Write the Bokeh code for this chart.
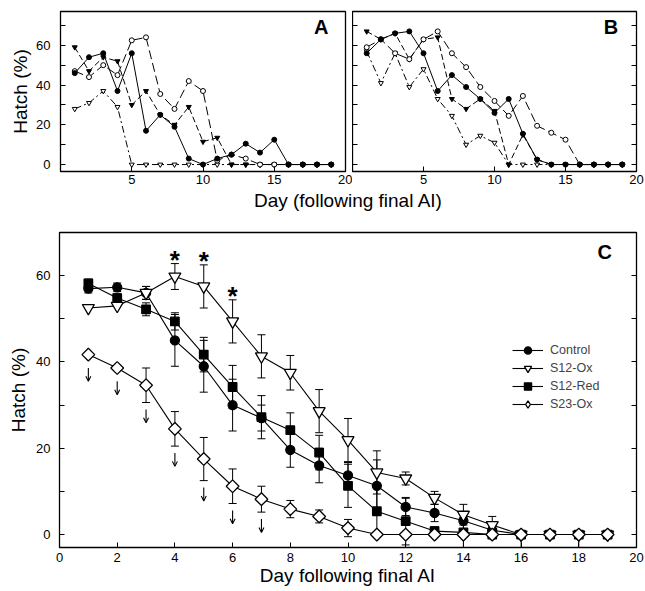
import numpy as np
from bokeh.plotting import figure
from bokeh.models import (ColumnDataSource, Whisker, TeeHead, FixedTicker, LinearAxis,
                          Label, Legend, LegendItem, Range1d, Arrow, OpenHead)
from bokeh.layouts import column, row
from bokeh.embed import file_html
from bokeh.resources import INLINE

FONT = "Liberation Sans"
days = list(range(1, 20))

# ---- Panel A: individual replicate series (% hatch by day) ----
a_filled_circle = [46, 54, 56, 37, 56, 17, 25, 19, 3, 0, 3, 5, 10.5, 6, 12.5, 0, 0, 0, 0]
a_open_circle = [47, 44, 50, 45, 62.5, 64, 35.5, 28, 42, 37, 2, 5, 3, 0, 0, 0, 0, 0, 0]
a_filled_tri = [59, 47, 54, 52, 30, 37, 25, 20, 29, 11.5, 13.5, 0, 0, 0, 0, 0, 0, 0, 0]
a_open_tri = [28, 31, 37, 29, 0, 0, 0, 0, 0, 0, 0, 0, 0, 0, 0, 0, 0, 0, 0]

# ---- Panel B ----
b_filled_circle = [56, 63, 66, 67, 56, 37, 45, 39, 33, 26, 33, 15.5, 2.5, 0, 0, 0, 0, 0, 0]
b_open_circle = [59, 63, 56, 53, 63, 67, 56, 49, 39, 32, 24.5, 34.5, 19.5, 16, 12.5, 0, 0, 0, 0]
b_filled_tri = [67, 63, 66, 53, 63, 64, 33, 28, 33, 27, 0, 15, 2.5, 0, 0, 0, 0, 0, 0]
b_open_tri = [57, 41, 56, 39, 48, 33, 24.5, 10, 14.5, 11, 0, 0, 0, 0, 0, 0, 0, 0, 0]

# ---- Panel C: treatment means with SE ----
labels_c = ["Control", "S12-Ox", "S12-Red", "S23-Ox"]
ctrl = [57, 57.3, 56, 45, 39, 30, 27, 19.6, 16, 13.7, 11.3, 6.4, 5, 3.2, 1, 0, 0, 0, 0]
ctrl_err_lo = [1, 1, 1.5, 6, 6, 6, 3, 4, 4, 3, 6, 2, 2, 2, 1, 3, 0, 3, 0]
ctrl_err_hi = [1, 1, 1.5, 6, 6, 6, 3, 4, 4, 3, 6, 2, 2, 2, 1, 0, 0, 0, 0]
s12ox = [52.5, 53, 56, 59.8, 57.5, 49.4, 41.3, 37.5, 28.6, 21.9, 14.4, 13, 8.5, 4.6, 2.2, 0, 0, 0, 0]
s12ox_err = [0, 0, 1.5, 3, 5, 5, 5, 4, 5, 5, 5, 1.5, 1.5, 2.4, 2, 0, 0, 0, 0]
s12red = [58.2, 54.8, 52.2, 49.4, 41.7, 34.2, 27.2, 24.2, 19, 11.3, 5.4, 3.1, 0.8, 0.5, 0, 0, 0, 0, 0]
s12red_err = [1, 1, 1.5, 2, 4, 5, 5, 4, 4, 5, 6, 5.5, 1, 3.5, 0, 0, 0, 0, 0]
s23ox = [41.7, 38.6, 34.6, 24.5, 17.5, 11.2, 8.2, 5.9, 4.2, 1.5, 0, 0, 0, 0, 0, 0, 0, 0, 0]
s23ox_err = [0, 0, 4, 4, 5, 4, 3, 2, 1.5, 2, 0, 0, 0, 0, 0, 0, 0, 0, 0]
sig_days = [4, 5, 6]          # asterisks above S12-Ox
down_days = [1, 2, 3, 4, 5, 6, 7]  # arrows below S23-Ox

x_ticks_ab = [5, 10, 15, 20]
y_major = [0, 20, 40, 60]
y_minor_ab = [10, 30, 50, 70]
x_ticks_c = list(range(0, 21, 2))
y_minor_c = [10, 30, 50]


def style_axis(ax, size="13px", labels=True, ticks=None):
    ax.axis_line_color = None
    ax.major_tick_in = 5
    ax.major_tick_out = 0
    ax.minor_tick_in = 5
    ax.minor_tick_out = 0
    ax.major_tick_line_color = "black"
    ax.minor_tick_line_color = "black"
    ax.major_label_text_font = FONT
    ax.major_label_text_color = "black"
    ax.major_label_text_font_size = size
    ax.axis_label_text_font = FONT
    ax.axis_label_text_font_style = "normal"
    ax.axis_label_text_color = "black"
    if not labels:
        ax.major_label_overrides = {t: "" for t in ticks}
        ax.major_label_standoff = 0


def base_fig(width, height, yr, mbl, mbr, mbt, mbb):
    p = figure(width=width, height=height, x_range=Range1d(0, 20), y_range=yr,
               output_backend="svg", toolbar_location=None,
               min_border_left=mbl, min_border_right=mbr,
               min_border_top=mbt, min_border_bottom=mbb)
    p.xgrid.visible = False
    p.ygrid.visible = False
    p.outline_line_color = "black"
    p.outline_line_width = 1.3
    p.background_fill_color = "white"
    p.border_fill_color = "white"
    return p


def ab_series(p, y, marker, fill, dash, lw=1.0):
    src = ColumnDataSource(dict(x=days, y=y))
    p.line("x", "y", source=src, line_color="black", line_width=lw, line_dash=dash)
    p.scatter("x", "y", source=src, marker=marker, size=5, line_color="black",
              fill_color=fill, line_width=1)


def txt(p, x, y, s, size, bold=False, font=FONT, baseline="middle"):
    p.add_layout(Label(x=x, y=y, text=s, text_font=font, text_font_size=size,
                       text_font_style="bold" if bold else "normal",
                       text_align="center", text_baseline=baseline, text_color="black"))


# ---------------- Panel A ----------------
pA = base_fig(352, 189, Range1d(-3.5, 77), 60, 7, 11, 18)
pA.xaxis.ticker = FixedTicker(ticks=x_ticks_ab)
pA.yaxis.ticker = FixedTicker(ticks=y_major, minor_ticks=y_minor_ab)
style_axis(pA.xaxis[0])
style_axis(pA.yaxis[0])
pA.xaxis.major_label_standoff = 3
pA.yaxis.major_label_standoff = 10
pA.yaxis.axis_label = "Hatch (%)"
pA.yaxis.axis_label_text_font_size = "19px"
pA.yaxis.axis_label_standoff = 2
ab_series(pA, a_open_tri, "inverted_triangle", "white", "7 3 2 3")
ab_series(pA, a_filled_tri, "inverted_triangle", "black", "6 3")
ab_series(pA, a_open_circle, "circle", "white", "9 4")
ab_series(pA, a_filled_circle, "circle", "black", "solid")
txt(pA, 18.3, 69.3, "A", "20px", bold=True)

# ---------------- Panel B ----------------
pB = base_fig(293, 189, Range1d(-3.5, 77), 0, 9, 11, 18)
pB.xaxis.ticker = FixedTicker(ticks=x_ticks_ab)
pB.yaxis.ticker = FixedTicker(ticks=y_major, minor_ticks=y_minor_ab)
style_axis(pB.xaxis[0])
pB.xaxis.major_label_standoff = 3
style_axis(pB.yaxis[0], labels=False, ticks=y_major)
rB = LinearAxis(ticker=FixedTicker(ticks=y_major, minor_ticks=y_minor_ab))
style_axis(rB, labels=False, ticks=y_major)
pB.add_layout(rB, "right")
ab_series(pB, b_open_tri, "inverted_triangle", "white", "7 3 2 3")
ab_series(pB, b_filled_tri, "inverted_triangle", "black", "6 3")
ab_series(pB, b_open_circle, "circle", "white", "9 4")
ab_series(pB, b_filled_circle, "circle", "black", "solid")
txt(pB, 18.2, 69, "B", "20px", bold=True)

# ---------------- shared x label for A and B ----------------
pL = figure(width=645, height=24, x_range=Range1d(0, 645), y_range=Range1d(0, 24),
            output_backend="svg", toolbar_location=None, min_border=0)
pL.axis.visible = False
pL.xgrid.visible = False
pL.ygrid.visible = False
pL.outline_line_color = None
txt(pL, 323, 13, "Day (following final AI)", "19px")

# ---------------- Panel C ----------------
pC = base_fig(645, 376, Range1d(-3, 70), 59, 9, 19, 42)
pC.xaxis.ticker = FixedTicker(ticks=x_ticks_c)
pC.yaxis.ticker = FixedTicker(ticks=y_major, minor_ticks=y_minor_c)
style_axis(pC.xaxis[0])
style_axis(pC.yaxis[0])
pC.xaxis.major_label_standoff = 5
pC.yaxis.major_label_standoff = 9
pC.xaxis.axis_label = "Day following final AI"
pC.xaxis.axis_label_text_font_size = "19px"
pC.xaxis.axis_label_standoff = 0
pC.yaxis.axis_label = "Hatch (%)"
pC.yaxis.axis_label_text_font_size = "19px"
pC.yaxis.axis_label_standoff = 4
rC = LinearAxis(ticker=FixedTicker(ticks=y_major, minor_ticks=y_minor_c))
style_axis(rC, labels=False, ticks=y_major)
pC.add_layout(rC, "right")


def whiskers(p, y, lo, hi):
    idx = [i for i in range(len(days)) if lo[i] > 0 or hi[i] > 0]
    src = ColumnDataSource(dict(x=[days[i] for i in idx],
                                upper=[y[i] + hi[i] for i in idx],
                                lower=[y[i] - lo[i] for i in idx]))
    w = Whisker(base="x", upper="upper", lower="lower", source=src, line_width=1,
                line_color="black",
                upper_head=TeeHead(size=8, line_width=1, line_color="black"),
                lower_head=TeeHead(size=8, line_width=1, line_color="black"))
    p.add_layout(w)


whiskers(pC, ctrl, ctrl_err_lo, ctrl_err_hi)
whiskers(pC, s12ox, s12ox_err, s12ox_err)
whiskers(pC, s12red, s12red_err, s12red_err)
whiskers(pC, s23ox, s23ox_err, s23ox_err)

series_c = [
    (ctrl, dict(marker="circle", size=9, fill_color="black")),
    (s12ox, dict(marker="inverted_triangle", size=12, fill_color="white")),
    (s12red, dict(marker="square", size=8.5, fill_color="black")),
    (s23ox, dict(marker="square", size=9, fill_color="white", angle=np.pi / 4)),
]
legend_markers = ["circle", "inverted_triangle", "square", "diamond"]
items = []
lines = []
for lab, (y, kw) in zip(labels_c, series_c):
    src = ColumnDataSource(dict(x=days, y=y))
    ln = pC.line("x", "y", source=src, line_color="black", line_width=1.1)
    lines.append((ln, src, kw))
for lab, (ln, src, kw), lm in zip(labels_c, lines, legend_markers):
    sc = pC.scatter("x", "y", source=src, line_color="black", line_width=1.3, **kw)
    rs = [ln, sc]
    if lm != kw["marker"]:
        # legend-only glyph: the legend does not draw marker rotation
        hidden = ColumnDataSource(dict(x=[np.nan], y=[np.nan]))
        lg = pC.scatter("x", "y", source=hidden, marker=lm, line_color="black",
                        line_width=1.3, fill_color=kw["fill_color"])
        rs = [ln, lg]
    items.append(LegendItem(label=lab, renderers=rs))

legend = Legend(items=items, location=(453, 134), padding=0, margin=0, spacing=0,
                glyph_width=31, glyph_height=18, label_height=17, label_standoff=7,
                label_text_font=FONT, label_text_font_size="12.5px",
                background_fill_alpha=0, border_line_alpha=0)
pC.add_layout(legend)

# asterisks and arrows
for d in sig_days:
    i = days.index(d)
    txt(pC, d, s12ox[i] + s12ox_err[i] + 0.9, "*", "26px", bold=True)
for d in down_days:
    i = days.index(d)
    c = s23ox[i] - max(s23ox_err[i], 1.5) - 3.2
    pC.add_layout(Arrow(x_start=d, y_start=c + 1.6, x_end=d, y_end=c - 1.5,
                        line_width=1.1, line_color="black",
                        end=OpenHead(size=5, line_width=1.1, line_color="black")))

txt(pC, 18.9, 65.4, "C", "20px", bold=True)

layout = column(row(pA, pB), pL, pC)
open("out.html", "w").write(file_html(layout, INLINE))
